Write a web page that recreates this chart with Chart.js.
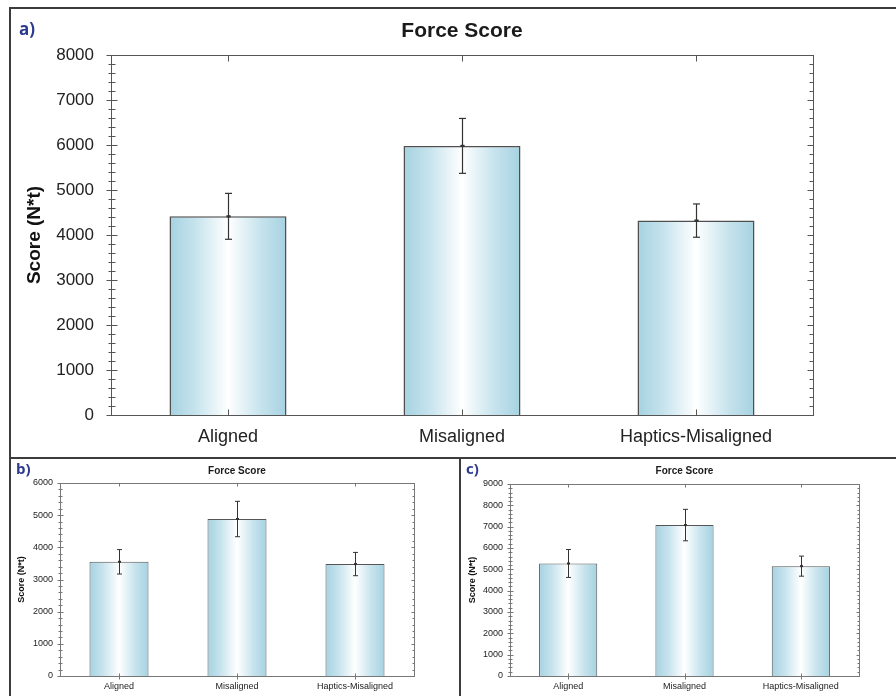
<!DOCTYPE html>
<html>
<head>
<meta charset="utf-8">
<title>Force Score</title>
<script src="https://cdn.jsdelivr.net/npm/chart.js@4.4.1/dist/chart.umd.min.js"></script>
<style>
  html, body { margin: 0; padding: 0; background: #ffffff; }
  #fig { position: relative; width: 896px; height: 696px; overflow: hidden; background: #ffffff; }
  #fig canvas { position: absolute; }
  .rule { position: absolute; background: #3c3c3c; }
  .tag { position: absolute; color: #2b3a8e; font-weight: bold; font-family: "Open Sans", "Liberation Sans", sans-serif; line-height: 1; }
</style>
</head>
<body>
<div id="fig">
  <canvas id="chartA" width="896" height="456" style="left:0;top:0;"></canvas>
  <canvas id="chartB" width="460" height="238" style="left:0;top:458px;"></canvas>
  <canvas id="chartC" width="435" height="238" style="left:461px;top:458px;"></canvas>

  <!-- panel frame rules -->
  <div class="rule" style="left:10px;top:7px;width:886px;height:2px;"></div>
  <div class="rule" style="left:9px;top:7px;width:2px;height:689px;"></div>
  <div class="rule" style="left:10px;top:457px;width:886px;height:2px;"></div>
  <div class="rule" style="left:459px;top:458px;width:2px;height:238px;"></div>

  <div class="tag" style="left:19px;top:20px;font-size:17px;">a)</div>
  <div class="tag" style="left:16px;top:461px;font-size:15px;">b)</div>
  <div class="tag" style="left:466px;top:461px;font-size:15px;">c)</div>
</div>

<script>
// Conditions shared by all three panels
const categories = ['Aligned', 'Misaligned', 'Haptics-Misaligned'];

// Panel a: mean force score and error (N*t)
const scoresA = [4415, 5980, 4320];
const errorsA = [510, 610, 370];
const yTicksA = { max: 8000, step: 1000, minor: 200 };

// Panel b
const scoresB = [3550, 4880, 3480];
const errorsB = [380, 550, 362];
const yTicksB = { max: 6000, step: 1000, minor: 200 };

// Panel c
const scoresC = [5275, 7075, 5150];
const errorsC = [655, 737, 470];
const yTicksC = { max: 9000, step: 1000, minor: 200 };

const FONT = '"Liberation Sans", Arial, sans-serif';
const EDGE_BLUE = '#a9d4e3';

// Horizontal light-blue -> white -> light-blue fill for each bar
function barFill(ctx) {
  const chart = ctx.chart;
  const xs = chart.scales && chart.scales.x;
  if (!xs || !chart.chartArea || ctx.dataIndex === undefined) return EDGE_BLUE;
  const cx = xs.getPixelForValue(ctx.dataIndex);
  const w = (xs.width / chart.data.labels.length) * 0.5;
  const g = chart.ctx.createLinearGradient(cx - w / 2, 0, cx + w / 2, 0);
  g.addColorStop(0, '#a6d2e1');
  g.addColorStop(0.22, '#c6e3ed');
  g.addColorStop(0.5, '#ffffff');
  g.addColorStop(0.78, '#c6e3ed');
  g.addColorStop(1, '#a6d2e1');
  return g;
}

// Plot box, tick marks on all four sides, and error bars
const plotFrame = {
  id: 'plotFrame',
  afterDatasetsDraw(chart, args, o) {
    const { ctx, chartArea: a, scales: { x, y } } = chart;
    const line = (x1, y1, x2, y2) => { ctx.beginPath(); ctx.moveTo(x1, y1); ctx.lineTo(x2, y2); ctx.stroke(); };
    ctx.save();

    // error bars
    const ds = chart.data.datasets[0];
    ctx.strokeStyle = o.errColor;
    ctx.lineWidth = o.errWidth;
    ds.data.forEach((v, i) => {
      const e = ds.errorBars[i];
      const px = Math.round(x.getPixelForValue(i)) + 0.5;
      const hi = y.getPixelForValue(v + e);
      const lo = y.getPixelForValue(v - e);
      const mid = y.getPixelForValue(v);
      line(px, hi, px, lo);
      line(px - o.cap, hi, px + o.cap, hi);
      line(px - o.cap, lo, px + o.cap, lo);
      ctx.lineWidth = o.errWidth + 1;
      line(px - o.cap * 0.6, mid, px + o.cap * 0.6, mid);
      ctx.lineWidth = o.errWidth;
    });

    // box
    ctx.strokeStyle = o.color;
    ctx.lineWidth = o.lineWidth;
    const L = Math.round(a.left) + 0.5, R = Math.round(a.right) + 0.5;
    const T = Math.round(a.top) + 0.5, B = Math.round(a.bottom) + 0.5;
    ctx.strokeRect(L, T, R - L, B - T);

    // y tick marks (major and minor), crossing on the left, inward on the right
    y.ticks.forEach(t => {
      const py = Math.round(y.getPixelForValue(t.value)) + 0.5;
      const major = t.value % o.majorStep === 0;
      const out = major ? o.majorOut : o.minorOut;
      const inn = major ? o.majorIn : o.minorIn;
      line(L - out, py, L + inn, py);
      line(R - inn, py, R, py);
    });

    // category tick marks on bottom and top edges
    x.ticks.forEach((t, k) => {
      const px = Math.round(x.getPixelForTick(k)) + 0.5;
      line(px, B - o.xIn, px, B + o.xOut);
      line(px, T, px, T + o.xIn);
    });
    ctx.restore();
  }
};

function makeChart(id, values, errors, yt, s) {
  return new Chart(document.getElementById(id), {
    type: 'bar',
    data: {
      labels: categories,
      datasets: [{
        data: values,
        errorBars: errors,
        backgroundColor: barFill,
        borderColor: s.barBorder,
        borderWidth: s.barBorderWidth,
        borderSkipped: 'bottom',
        barPercentage: 0.5,
        categoryPercentage: 1.0
      }]
    },
    options: {
      responsive: false,
      animation: false,
      events: [],
      layout: { padding: { left: s.padLeft, right: s.padRight, top: 0, bottom: 0 } },
      plugins: {
        legend: { display: false },
        tooltip: { enabled: false },
        title: {
          display: true,
          fullSize: false,
          text: 'Force Score',
          color: '#1a1a1a',
          font: { family: FONT, size: s.titleSize, weight: 'bold', lineHeight: 1.2 },
          padding: { top: s.titleTop, bottom: s.titleBottom }
        },
        plotFrame: s.frame
      },
      scales: {
        x: {
          type: 'category',
          grid: { display: false, drawTicks: false },
          border: { display: false },
          ticks: { color: '#222222', font: { family: FONT, size: s.xSize }, padding: s.xPad, maxRotation: 0, autoSkip: false },
          afterFit: sc => { sc.height = s.xHeight; }
        },
        y: {
          min: 0,
          max: yt.max,
          grid: { display: false, drawTicks: false },
          border: { display: false },
          ticks: {
            stepSize: yt.minor,
            autoSkip: false,
            color: '#222222',
            font: { family: FONT, size: s.ySize },
            padding: s.yPad,
            callback: v => (v % yt.step === 0 ? String(v) : '')
          },
          title: {
            display: true,
            text: 'Score (N*t)',
            color: '#111111',
            font: { family: FONT, size: s.yTitleSize, weight: 'bold', lineHeight: 1.2 },
            padding: { top: 4, bottom: 4 }
          },
          afterFit: sc => { sc.width = s.yWidth; }
        }
      }
    },
    plugins: [plotFrame]
  });
}

makeChart('chartA', scoresA, errorsA, yTicksA, {
  padLeft: 19, padRight: 83, yWidth: 92, xHeight: 41,
  titleSize: 21, titleTop: 19, titleBottom: 10.8,
  xSize: 18, xPad: 11, ySize: 17, yPad: 17, yTitleSize: 19,
  barBorder: '#4f4f4f', barBorderWidth: 1.5,
  frame: { color: '#555555', lineWidth: 1, majorStep: 1000, majorOut: 5, majorIn: 6, minorOut: 3, minorIn: 4,
           xIn: 6, xOut: 0, cap: 3.5, errColor: '#333333', errWidth: 1.2 }
});

makeChart('chartB', scoresB, errorsB, yTicksB, {
  padLeft: 12, padRight: 46, yWidth: 48, xHeight: 20,
  titleSize: 10, titleTop: 7, titleBottom: 6,
  xSize: 9, xPad: 5, ySize: 9, yPad: 7, yTitleSize: 9,
  barBorder: '#555555', barBorderWidth: 1,
  frame: { color: '#777777', lineWidth: 1, majorStep: 1000, majorOut: 3, majorIn: 3, minorOut: 2, minorIn: 2,
           xIn: 3, xOut: 3, cap: 2.5, errColor: '#333333', errWidth: 1 }
});

makeChart('chartC', scoresC, errorsC, yTicksC, {
  padLeft: 2, padRight: 37, yWidth: 47, xHeight: 20,
  titleSize: 10, titleTop: 7, titleBottom: 7,
  xSize: 9, xPad: 5, ySize: 9, yPad: 7, yTitleSize: 9,
  barBorder: '#555555', barBorderWidth: 1,
  frame: { color: '#777777', lineWidth: 1, majorStep: 1000, majorOut: 3, majorIn: 3, minorOut: 2, minorIn: 2,
           xIn: 3, xOut: 3, cap: 2.5, errColor: '#333333', errWidth: 1 }
});
</script>
</body>
</html>
